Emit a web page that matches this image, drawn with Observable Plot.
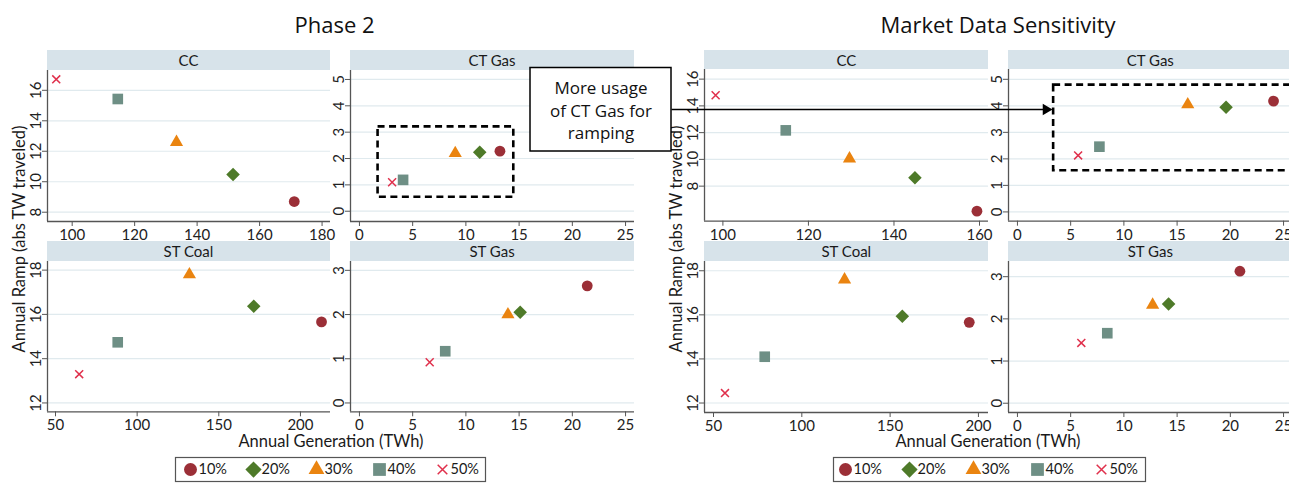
<!DOCTYPE html>
<html><head><meta charset="utf-8">
<script src="https://cdn.jsdelivr.net/npm/d3@7"></script>
<script src="https://cdn.jsdelivr.net/npm/@observablehq/plot@0.6"></script>
<style>
html,body{margin:0;padding:0;background:#fff;}
#chart{position:relative;width:1289px;height:483px;overflow:hidden;font-family:Lato,"Open Sans",sans-serif;color:#1a1a1a;background:#fff;}
#chart svg{position:absolute;overflow:visible;}
.hdr{position:absolute;background:#d7e3ea;font-size:15px;display:flex;align-items:center;justify-content:center;color:#1a1a1a;}
.ttl{position:absolute;font-family:"Open Sans",Lato,sans-serif;font-size:22px;transform:translate(-50%,-50%);white-space:nowrap;color:#111;}
.axt{position:absolute;font-size:16.5px;line-height:1;white-space:nowrap;color:#1a1a1a;}
</style></head>
<body><div id="chart"></div>
<script>
// ---------- data ----------
const series = ["10%", "20%", "30%", "40%", "50%"];
const facets = ["CC", "CT Gas", "ST Coal", "ST Gas"];
const groups = ["Phase 2", "Market Data Sensitivity"];

// Phase 2 (annual generation TWh, annual ramp abs TW traveled), in series order
const p2_cc_gen = [171.1, 151.5, 133.4, 114.6, 94.9];
const p2_cc_ramp = [8.7, 10.48, 12.6, 15.43, 16.72];
const p2_ctgas_gen = [13.2, 11.3, 9.0, 4.1, 3.07];
const p2_ctgas_ramp = [2.28, 2.24, 2.2, 1.19, 1.1];
const p2_stcoal_gen = [212.9, 171.4, 132.0, 88.1, 64.5];
const p2_stcoal_ramp = [15.66, 16.37, 17.8, 14.74, 13.3];
const p2_stgas_gen = [21.4, 15.1, 13.95, 8.06, 6.6];
const p2_stgas_ramp = [2.65, 2.05, 2.0, 1.17, 0.92];

// Market Data Sensitivity
const md_cc_gen = [159.4, 144.9, 129.6, 114.7, 98.3];
const md_cc_ramp = [6.13, 8.62, 10.05, 12.17, 14.8];
const md_ctgas_gen = [24.06, 19.6, 16.0, 7.7, 5.7];
const md_ctgas_ramp = [4.18, 3.95, 4.05, 2.46, 2.13];
const md_stcoal_gen = [194.8, 156.9, 124.2, 79.0, 56.5];
const md_stcoal_ramp = [15.66, 15.94, 17.6, 14.1, 12.45];
const md_stgas_gen = [20.9, 14.2, 12.7, 8.44, 6.0];
const md_stgas_ramp = [3.13, 2.35, 2.33, 1.66, 1.43];

// tick labels
const p2_cc_xticks = [100, 120, 140, 160, 180];
const md_cc_xticks = [100, 120, 140, 160];
const cc_yticks = [8, 10, 12, 14, 16];
const gas_xticks = [0, 5, 10, 15, 20, 25];
const ctgas_yticks = [0, 1, 2, 3, 4, 5];
const stcoal_xticks = [50, 100, 150, 200];
const stcoal_yticks = [12, 14, 16, 18];
const stgas_yticks = [0, 1, 2, 3];

// annotation (dashed highlight boxes, data units of CT Gas panels)
const p2_highlight = [{x1: 1.75, x2: 14.5, y1: 0.53, y2: 3.2}];
const md_highlight = [{x1: 3.4, x2: 27, y1: 1.55, y2: 4.78}];
const noteLines = ["More usage", "of CT Gas for", "ramping"];
const xTitle = "Annual Generation (TWh)";
const yTitle = "Annual Ramp (abs TW traveled)";

// ---------- styling ----------
const styles = {
  "10%": {symbol: "circle", fill: "#9b2f37", stroke: "none", r: 5.4},
  "20%": {symbol: "diamond2", fill: "#4e7a29", stroke: "none", r: 6.1},
  "30%": {symbol: "triangle", fill: "#ea8410", stroke: "none", r: 4.9},
  "40%": {symbol: "square", fill: "#6e8f85", stroke: "none", r: 6.0},
  "50%": {symbol: "times", fill: "none", stroke: "#e0304c", r: 3.7, strokeWidth: 1.5}
};
const chart = document.getElementById("chart");

function addDiv(cls, text, css) {
  const d = document.createElement("div");
  d.className = cls; d.textContent = text;
  Object.assign(d.style, css);
  chart.appendChild(d);
  return d;
}

function panel(p) {
  const ml = 40, mr = 6, mt = 4, mb = 24;
  const rows = series.map((s, i) => ({s, x: p.gen[i], y: p.ramp[i]}));
  const marks = [
    Plot.gridY(p.yTicks, {stroke: "#e0eaee", strokeOpacity: 1, strokeWidth: 1.2}),
    Plot.axisY(p.yTicks, {anchor: "left", tickSize: 5, tickRotate: -90, tickPadding: 2, label: null, fontSize: 15, stroke: "#555", color: "#222"}),
    Plot.axisX(p.xTicks, {anchor: "bottom", tickSize: 5, tickPadding: 3, label: null, fontSize: 15, stroke: "#555", color: "#222"}),
    Plot.ruleX([p.xDomain[0]], {stroke: "#555", strokeWidth: 1.3}),
    Plot.ruleY([p.yDomain[0]], {stroke: "#555", strokeWidth: 1.3})
  ];
  if (p.box) marks.push(Plot.rect(p.box, {x1: "x1", x2: "x2", y1: "y1", y2: "y2", fill: "none", stroke: "#000", strokeWidth: 2.6, strokeDasharray: "7,4.5"}));
  for (const s of series) marks.push(Plot.dot(rows.filter(d => d.s === s), {x: "x", y: "y", ...styles[s]}));
  const svg = Plot.plot({
    width: ml + p.w + mr, height: mt + p.h + mb,
    marginLeft: ml, marginRight: mr, marginTop: mt, marginBottom: mb,
    style: {background: "transparent", fontFamily: "Lato", overflow: "visible"},
    x: {domain: p.xDomain, axis: null},
    y: {domain: p.yDomain, axis: null},
    marks
  });
  svg.style.left = (p.left - ml) + "px";
  svg.style.top = (p.top - mt) + "px";
  chart.appendChild(svg);
  addDiv("hdr", p.name, {left: p.left + "px", top: p.hTop + "px", width: p.w + "px", height: (p.top - p.hTop) + "px"});
}

const panels = [
  {name: facets[0], gen: p2_cc_gen, ramp: p2_cc_ramp, xTicks: p2_cc_xticks, yTicks: cc_yticks, xDomain: [92.1, 182.7], yDomain: [7.39, 17.3], left: 47, top: 70, w: 283, h: 151, hTop: 50},
  {name: facets[1], gen: p2_ctgas_gen, ramp: p2_ctgas_ramp, xTicks: gas_xticks, yTicks: ctgas_yticks, xDomain: [-0.84, 25.84], yDomain: [-0.39, 5.34], left: 350, top: 70, w: 284, h: 151, hTop: 50, box: p2_highlight},
  {name: facets[2], gen: p2_stcoal_gen, ramp: p2_stcoal_ramp, xTicks: stcoal_xticks, yTicks: stcoal_yticks, xDomain: [45.1, 218.4], yDomain: [11.6, 18.39], left: 47, top: 260.7, w: 283, h: 150.3, hTop: 240.5},
  {name: facets[3], gen: p2_stgas_gen, ramp: p2_stgas_ramp, xTicks: gas_xticks, yTicks: stgas_yticks, xDomain: [-0.84, 25.84], yDomain: [-0.2, 3.2], left: 350, top: 260.7, w: 284, h: 150.3, hTop: 240.5},
  {name: facets[0], gen: md_cc_gen, ramp: md_cc_ramp, xTicks: md_cc_xticks, yTicks: cc_yticks, xDomain: [95.7, 162.1], yDomain: [5.38, 16.72], left: 704.3, top: 69.3, w: 284, h: 151.7, hTop: 50},
  {name: facets[1], gen: md_ctgas_gen, ramp: md_ctgas_ramp, xTicks: gas_xticks, yTicks: ctgas_yticks, xDomain: [-0.84, 25.84], yDomain: [-0.35, 5.37], left: 1008.3, top: 69.3, w: 284, h: 151.7, hTop: 50, box: md_highlight},
  {name: facets[2], gen: md_stcoal_gen, ramp: md_stcoal_ramp, xTicks: stcoal_xticks, yTicks: stcoal_yticks, xDomain: [44.9, 205.7], yDomain: [11.57, 18.42], left: 704.3, top: 260.7, w: 284, h: 151, hTop: 240.5},
  {name: facets[3], gen: md_stgas_gen, ramp: md_stgas_ramp, xTicks: gas_xticks, yTicks: stgas_yticks, xDomain: [-0.84, 25.84], yDomain: [-0.22, 3.36], left: 1008.3, top: 260.7, w: 284, h: 151, hTop: 240.5}
];
panels.forEach(panel);

// titles and axis titles
addDiv("ttl", groups[0], {left: "334.5px", top: "24px"});
addDiv("ttl", groups[1], {left: "998px", top: "24px"});
addDiv("axt", xTitle, {left: "331px", top: "441px", transform: "translate(-50%,-50%)"});
addDiv("axt", xTitle, {left: "988px", top: "441px", transform: "translate(-50%,-50%)"});
addDiv("axt", yTitle, {left: "18.5px", top: "239px", transform: "translate(-50%,-50%) rotate(-90deg)"});
addDiv("axt", yTitle, {left: "676px", top: "239px", transform: "translate(-50%,-50%) rotate(-90deg)"});

// legends
function legend(left, top, w, c0, step) {
  const big = s => ({...styles[s], r: styles[s].r * 1.2});
  const marks = [Plot.frame({stroke: "#555", strokeWidth: 1.2})];
  for (const s of series) marks.push(Plot.dot([s], {x: d => d, frameAnchor: "middle", ...big(s)}));
  marks.push(Plot.text(series, {x: d => d, text: d => d, dx: 8, textAnchor: "start", frameAnchor: "middle", fontSize: 14.5, fill: "#1a1a1a"}));
  const svg = Plot.plot({
    width: w, height: 24, margin: 0,
    style: {background: "white", fontFamily: "Lato", overflow: "visible"},
    x: {type: "point", domain: series, range: [c0, c0 + 4 * step], padding: 0, axis: null},
    marks
  });
  svg.style.left = left + "px"; svg.style.top = top + "px";
  chart.appendChild(svg);
}
legend(175, 457, 310, 13, 63.8);
legend(833, 457, 312, 12, 64);

// annotation overlay: text box + arrow
const noteBox = [{x1: 530, x2: 671, y1: 67.5, y2: 151}];
const arrowLine = [{x1: 671, y1: 109, x2: 1046, y2: 109}];
const arrowHead = [{x: 1045.5, y: 109}];
const noteText = noteLines.map((t, i) => ({t, x: 600.5, y: 88.5 + i * 22.5}));
const overlay = Plot.plot({
  width: 1289, height: 483, margin: 0,
  style: {background: "transparent", fontFamily: "'Open Sans', Lato", overflow: "visible"},
  x: {domain: [0, 1289], range: [0, 1289], axis: null},
  y: {domain: [0, 483], range: [0, 483], axis: null},
  marks: [
    Plot.link(arrowLine, {x1: "x1", y1: "y1", x2: "x2", y2: "y2", stroke: "#000", strokeWidth: 1.7}),
    Plot.dot(arrowHead, {x: "x", y: "y", symbol: "triangle", rotate: 90, fill: "#000", stroke: "none", r: 4.2}),
    Plot.rect(noteBox, {x1: "x1", x2: "x2", y1: "y1", y2: "y2", fill: "white", stroke: "#000", strokeWidth: 1.5}),
    Plot.text(noteText, {x: "x", y: "y", text: "t", fontSize: 17, fill: "#111"})
  ]
});
overlay.style.left = "0px"; overlay.style.top = "0px"; overlay.style.pointerEvents = "none";
chart.appendChild(overlay);
</script></body></html>
